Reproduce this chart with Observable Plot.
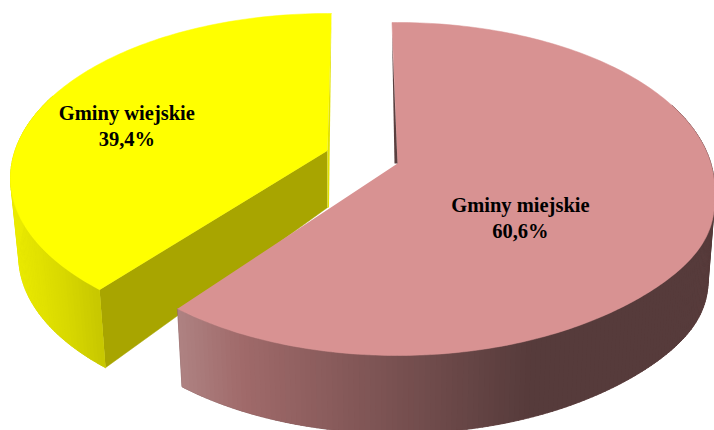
<!DOCTYPE html>
<html>
<head>
<meta charset="utf-8">
<script src="https://cdn.jsdelivr.net/npm/d3@7"></script>
<script src="https://cdn.jsdelivr.net/npm/@observablehq/plot@0.6"></script>
<style>
html,body{margin:0;padding:0;background:#fff;overflow:hidden}
svg{display:block}
</style>
</head>
<body>
<div id="chart"></div>
<script>
// Data
const categories = ["Gminy miejskie", "Gminy wiejskie"];
const shares = [60.6, 39.4];

// 3D pie model, in drawing units
const W = 714, H = 430;
const warp = 7;
const models = [
  {cx: 397, cy: 188, rx: 317, ryTop: 166, ryBottom: 167, bulge: 13, apex: [397, 163], depth: 78, innerDepth: 57, foot: 0.98, labelR: 0.427, labelShift: 0,
   startShift: -1, endShift: -0.85,
   top: "#D89292", inner: "#A8A500",
   wallStops: [[177, "#AE8282"], [240, "#A06A6A"], [530, "#563B3B"], [714, "#563B3B"]]},
  {cx: 327, cy: 178, rx: 317, ryTop: 165, ryBottom: 160, bulge: 0, apex: [327, 150], depth: 78, innerDepth: 57, foot: 0.974, labelR: 0.71, labelShift: 3.8,
   startShift: 1.2, endShift: 0.72,
   top: "#FFFF00", inner: "#A8A500",
   wallStops: [[10, "#EBEB00"], [60, "#D9D900"], [100, "#C6C600"], [330, "#C6C600"]]}
];

const rad = d => d * Math.PI / 180;
const warpAngle = d => d + warp * Math.sin(rad(d / 2));
function rim(m, deg) {
  const a = rad(deg), c = Math.cos(a), s = Math.sin(a);
  const extra = c < 0 && s > 0 ? m.bulge * Math.pow(s, 8) : 0;
  return [m.cx + m.rx * s, m.cy - (c > 0 ? m.ryTop : m.ryBottom) * c + extra];
}

// Slice angle ranges come from the shares
let cum = 0;
const slices = categories.map((name, i) => {
  const start = cum * 3.6;
  cum += shares[i];
  return {name, value: shares[i], start, end: cum * 3.6, model: models[i]};
});

const polys = [];
let pid = 0;
function poly(points, color) {
  const id = pid++;
  for (const [x, y] of points) polys.push({x, y, id, color});
}

function drawSlice(s) {
  const m = s.model;
  const a0 = warpAngle(s.start) + m.startShift, a1 = warpAngle(s.end) + m.endShift;
  const ramp = d3.scaleLinear().domain(m.wallStops.map(d => d[0])).range(m.wallStops.map(d => d[1])).interpolate(d3.interpolateRgb).clamp(true);
  const foot = ([x, y]) => [m.cx + (x - m.cx) * m.foot, y + m.depth];
  const from = Math.max(a0, 60), to = Math.min(a1, 300);
  // inner cut wall, for the slice whose cut faces the viewer
  if (a0 > 180) {
    const c = rim(m, a0);
    poly([m.apex, c, foot(c), [m.apex[0], m.apex[1] + m.innerDepth]], m.inner);
  }
  // whole wall as an underlay, so the strips leave no gaps
  const hullTop = [], hullFoot = [];
  for (let d = from; d <= to; d += 1) { const p = rim(m, d); hullTop.push(p); hullFoot.push(foot(p)); }
  hullTop.push(rim(m, to)); hullFoot.push(foot(rim(m, to)));
  poly([...hullTop, ...hullFoot.reverse()], ramp((rim(m, from)[0] + rim(m, to)[0]) / 2));
  // curved outer wall, strip by strip
  for (let d = from; d < to; d += 1) {
    const e = Math.min(d + 1.2, to);
    const p = rim(m, d), q = rim(m, e);
    poly([p, q, foot(q), foot(p)], ramp((p[0] + q[0]) / 2));
  }
  // top surface
  const pts = [m.apex];
  for (let d = a0; d <= a1 + 1e-6; d += 1) pts.push(rim(m, d));
  pts.push(rim(m, a1));
  poly(pts, m.top);
}

slices.slice().reverse().forEach(drawSlice);

// thin visible back walls along the upright cut edges
const pinkRim = rim(models[0], models[0].startShift);
const yellowRim = rim(models[1], 360 + models[1].endShift);
const slivers = [];
function sliver(points, color) {
  const id = "s" + slivers.length;
  points.forEach(([x, y]) => slivers.push({x, y, id, color}));
}
sliver([[pinkRim[0], pinkRim[1] + 10], models[0].apex, [models[0].apex[0] - 3, models[0].apex[1]]], "#5A3F3F");
sliver([yellowRim, [models[1].apex[0] + 1.5, models[1].apex[1] + models[1].innerDepth], [models[1].apex[0], models[1].apex[1] + models[1].innerDepth], models[1].apex], "#E2E200");

const labels = slices.flatMap(s => {
  const m = s.model;
  const a = rad(warpAngle((s.start + s.end) / 2) + m.labelShift);
  const x = m.cx + m.labelR * m.rx * Math.sin(a);
  const y = m.cy - m.labelR * (m.ryTop + m.ryBottom) / 2 * Math.cos(a);
  const pct = s.value.toFixed(1).replace(".", ",") + "%";
  return [{x, y: y - 13, t: s.name}, {x, y: y + 13, t: pct}];
});

const plot = Plot.plot({
  width: W, height: H,
  margin: 0,
  x: {domain: [0, W], range: [0, W], axis: null},
  y: {domain: [H, 0], range: [H, 0], axis: null},
  color: {type: "identity"},
  style: {background: "#fff"},
  marks: [
    Plot.line(polys, {x: "x", y: "y", z: "id", fill: "color", stroke: "color", strokeWidth: 0.5, curve: "linear"}),
    Plot.line(slivers, {x: "x", y: "y", z: "id", fill: "color", stroke: "none", curve: "linear"}),
    Plot.text(labels, {x: "x", y: "y", text: "t", fontFamily: "Liberation Serif", fontWeight: "bold", fontSize: 20.5, fill: "#000", textAnchor: "middle"})
  ]
});
document.getElementById("chart").appendChild(plot);
</script>
</body>
</html>
